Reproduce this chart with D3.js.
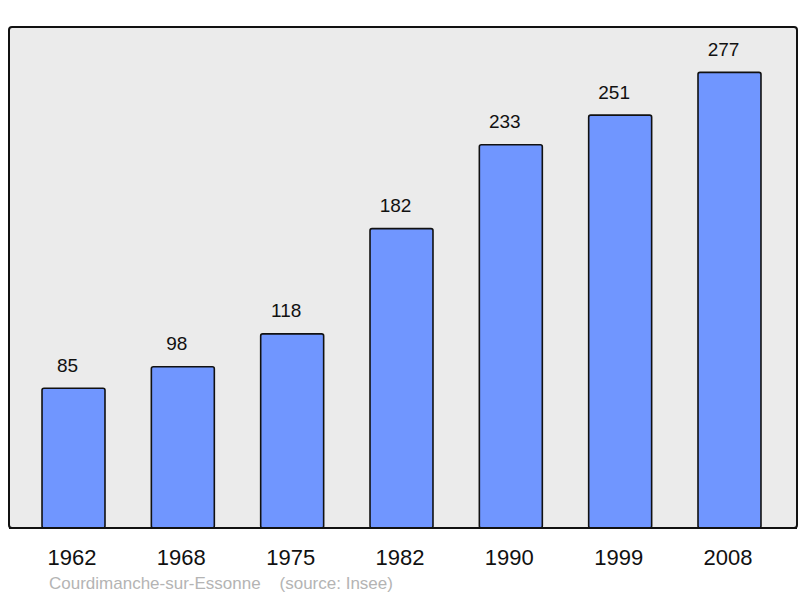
<!DOCTYPE html>
<html>
<head>
<meta charset="utf-8">
<script src="https://cdn.jsdelivr.net/npm/d3@7"></script>
<style>
  html, body { margin: 0; padding: 0; background: #ffffff; }
  svg { display: block; font-family: "Liberation Sans", Arial, sans-serif; }
</style>
</head>
<body>
<svg id="chart" width="800" height="598"></svg>
<script>
const years = ["1962", "1968", "1975", "1982", "1990", "1999", "2008"];
const population = [85, 98, 118, 182, 233, 251, 277];
const commune = "Courdimanche-sur-Essonne";
const sourceNote = "(source: Insee)";

const svg = d3.select("#chart");
const frame = { left: 9, top: 27, right: 797, bottom: 528 };

svg.append("rect")
  .attr("x", frame.left).attr("y", frame.top)
  .attr("width", frame.right - frame.left)
  .attr("height", frame.bottom - frame.top)
  .attr("rx", 3).attr("ry", 3)
  .attr("fill", "#ebebeb")
  .attr("stroke", "#111").attr("stroke-width", 2);

const x = d3.scaleBand()
  .domain(years)
  .range([9, 794])
  .paddingInner(0.424)
  .paddingOuter(0.302);

const y = d3.scaleLinear()
  .domain([0, 304.6])
  .range([frame.bottom, frame.top]);

const g = svg.append("g");

g.selectAll("rect.bar")
  .data(population)
  .join("rect")
  .attr("class", "bar")
  .attr("x", (d, i) => x(years[i]))
  .attr("y", d => y(d))
  .attr("width", x.bandwidth())
  .attr("height", d => y(0) - y(d))
  .attr("rx", 2).attr("ry", 2)
  .attr("fill", "#7096ff")
  .attr("stroke", "#111")
  .attr("stroke-width", 1.6);

g.selectAll("text.val")
  .data(population)
  .join("text")
  .attr("class", "val")
  .attr("x", (d, i) => x(years[i]) + x.bandwidth() / 2 - 6)
  .attr("y", d => y(d) - 16.5)
  .attr("text-anchor", "middle")
  .attr("font-size", 19)
  .attr("fill", "#111")
  .text(d => d);

svg.append("line")
  .attr("x1", frame.left).attr("x2", frame.right)
  .attr("y1", frame.bottom).attr("y2", frame.bottom)
  .attr("stroke", "#111").attr("stroke-width", 2);

const xAxis = d3.axisBottom(x).tickSize(0).tickPadding(0);
const ax = svg.append("g")
  .attr("transform", `translate(0, ${frame.bottom})`)
  .call(xAxis);
ax.select(".domain").remove();
ax.selectAll("text")
  .attr("dy", null)
  .attr("x", -1.5)
  .attr("y", 37)
  .attr("font-size", 22)
  .attr("font-family", "Liberation Sans, Arial, sans-serif")
  .attr("fill", "#111");

svg.append("text")
  .attr("x", 49).attr("y", 589)
  .attr("font-size", 17)
  .attr("fill", "#b4b4b4")
  .attr("xml:space", "preserve")
  .text(commune + "    " + sourceNote);
</script>
</body>
</html>
